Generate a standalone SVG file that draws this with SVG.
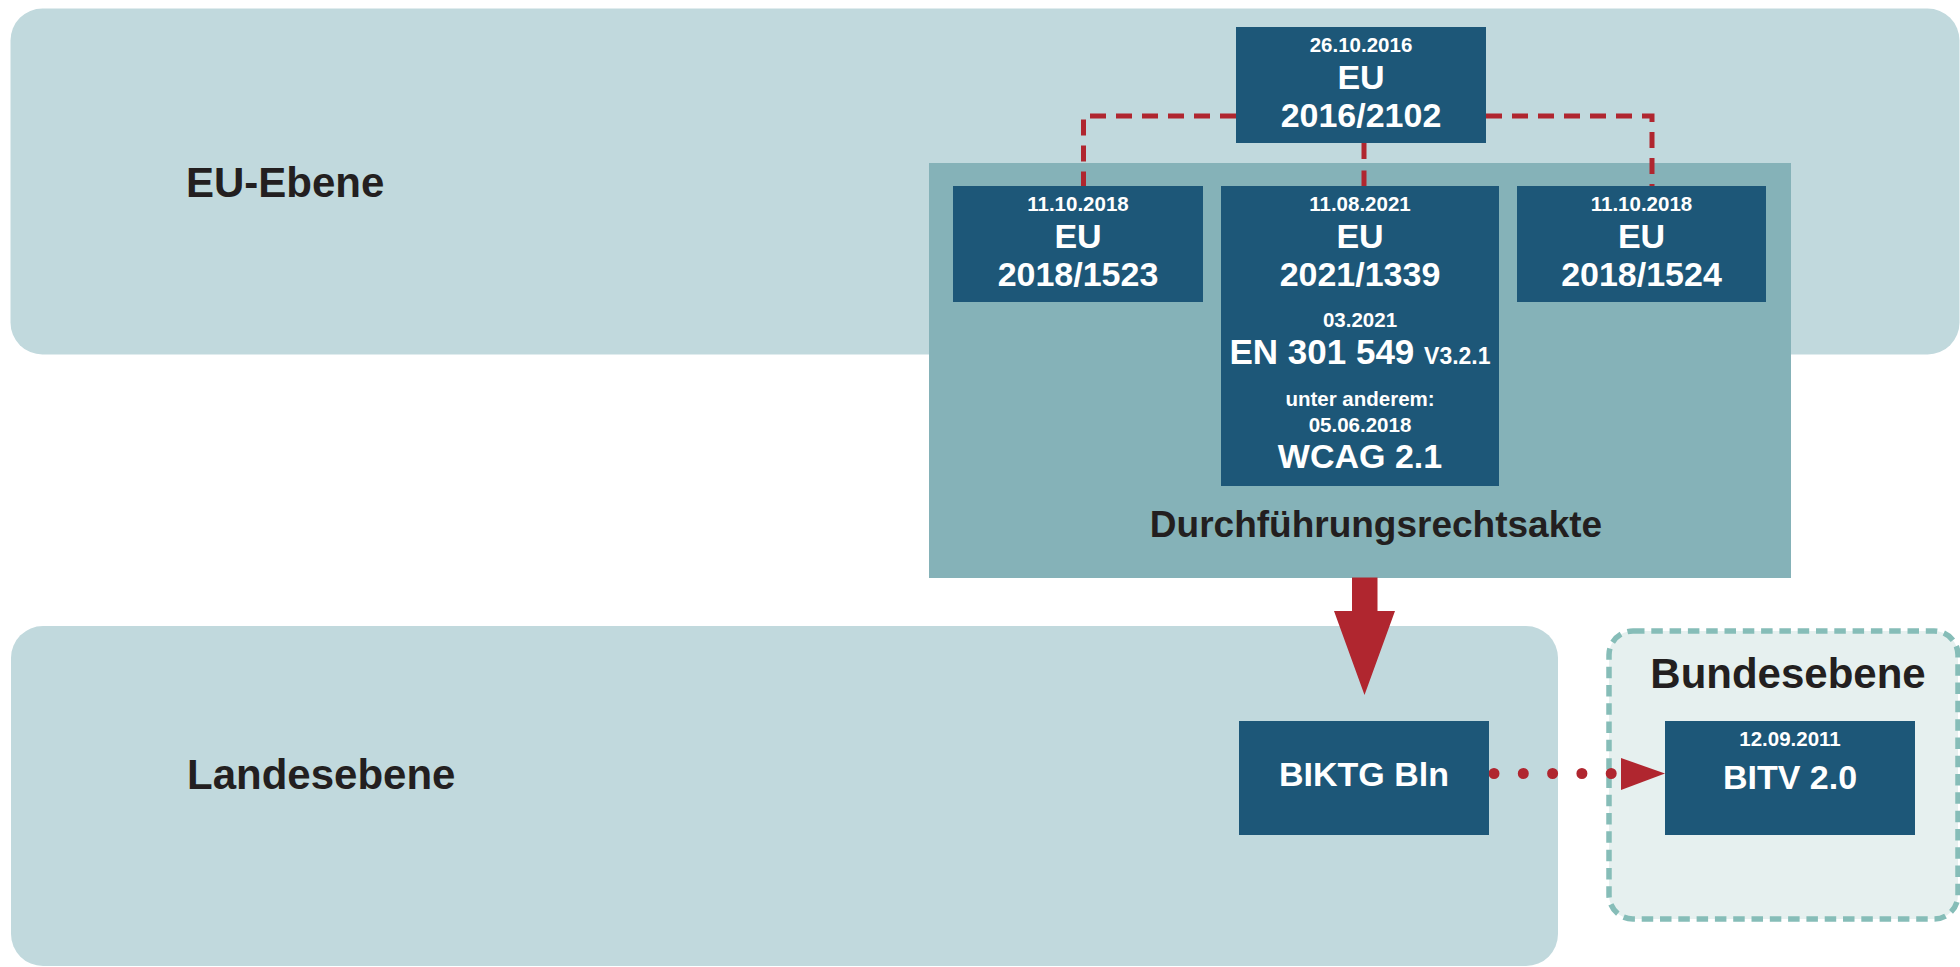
<svg xmlns="http://www.w3.org/2000/svg" width="1960" height="967" viewBox="0 0 1960 967">
<style>
text{font-family:"Liberation Sans",Arial,sans-serif;font-weight:bold;text-anchor:middle}
.band{fill:#c1d9dd}
.box{fill:#1d5778}
.w{fill:#ffffff}
.lbl{fill:#231f20;font-size:42px}
.d{font-size:20.5px}
.m{font-size:34px}
.dash{fill:none;stroke:#b0262f;stroke-width:5;stroke-dasharray:16 10}
</style>
<rect width="1960" height="967" fill="#ffffff"/>
<g id="eu-ebene">
<rect class="band" x="10.5" y="8.5" width="1949" height="346" rx="32"/>
<text class="lbl" x="186" y="197" style="text-anchor:start">EU-Ebene</text>
</g>
<g id="landesebene">
<rect class="band" x="11" y="626" width="1547" height="340" rx="32"/>
<text class="lbl" x="187" y="789" style="text-anchor:start">Landesebene</text>
</g>
<g id="bundesebene">
<rect x="1609" y="631" width="349" height="288" rx="24" fill="#e6f0ef" stroke="#86bdb8" stroke-width="5.5" stroke-dasharray="11.5 6.8"/>
<text class="lbl" x="1788" y="688">Bundesebene</text>
</g>
<g id="durchfuehrungsrechtsakte">
<rect x="929" y="163" width="862" height="415" fill="#85b2b8"/>
<text x="1376" y="537" style="font-size:37px;fill:#231f20">Durchführungsrechtsakte</text>
</g>
<g id="connectors">
<path class="dash" d="M1236 116 H1083.5 V186"/>
<path class="dash" d="M1486 116 H1652 V186"/>
<path d="M1364 143 V186" fill="none" stroke="#b0262f" stroke-width="5" stroke-dasharray="16 11.5"/>
<path d="M1352 577.5 H1377.5 V611 H1395 L1364.5 695 L1334 611 H1352 Z" fill="#b0262f"/>
<path d="M1494 773.5 H1614" fill="none" stroke="#b0262f" stroke-width="11" stroke-linecap="round" stroke-dasharray="0 29.3"/>
<polygon points="1621,758 1665,773.5 1621,790" fill="#b0262f"/>
</g>
<g id="eu-2016-2102">
<rect class="box" x="1236" y="27" width="250" height="116"/>
<text class="w d" x="1361" y="52">26.10.2016</text>
<text class="w m" x="1361" y="89">EU</text>
<text class="w m" x="1361" y="127">2016/2102</text>
</g>
<g id="eu-2018-1523">
<rect class="box" x="953" y="186" width="250" height="116"/>
<text class="w d" x="1078" y="211">11.10.2018</text>
<text class="w m" x="1078" y="248">EU</text>
<text class="w m" x="1078" y="286">2018/1523</text>
</g>
<g id="eu-2021-1339">
<rect class="box" x="1221" y="186" width="278" height="300"/>
<text class="w d" x="1360" y="211">11.08.2021</text>
<text class="w m" x="1360" y="248">EU</text>
<text class="w m" x="1360" y="286">2021/1339</text>
<text class="w d" x="1360" y="327">03.2021</text>
<text class="w" x="1360" y="364" style="font-size:35px">EN 301 549 <tspan style="font-size:23px">V3.2.1</tspan></text>
<text class="w d" x="1360" y="406">unter anderem:</text>
<text class="w d" x="1360" y="432">05.06.2018</text>
<text class="w m" x="1360" y="468">WCAG 2.1</text>
</g>
<g id="eu-2018-1524">
<rect class="box" x="1517" y="186" width="249" height="116"/>
<text class="w d" x="1641.5" y="211">11.10.2018</text>
<text class="w m" x="1641.5" y="248">EU</text>
<text class="w m" x="1641.5" y="286">2018/1524</text>
</g>
<g id="biktg-bln">
<rect class="box" x="1239" y="721" width="250" height="114"/>
<text class="w m" x="1364" y="786">BIKTG Bln</text>
</g>
<g id="bitv-2-0">
<rect class="box" x="1665" y="721" width="250" height="114"/>
<text class="w d" x="1790" y="746">12.09.2011</text>
<text class="w m" x="1790" y="789">BITV 2.0</text>
</g>
</svg>
